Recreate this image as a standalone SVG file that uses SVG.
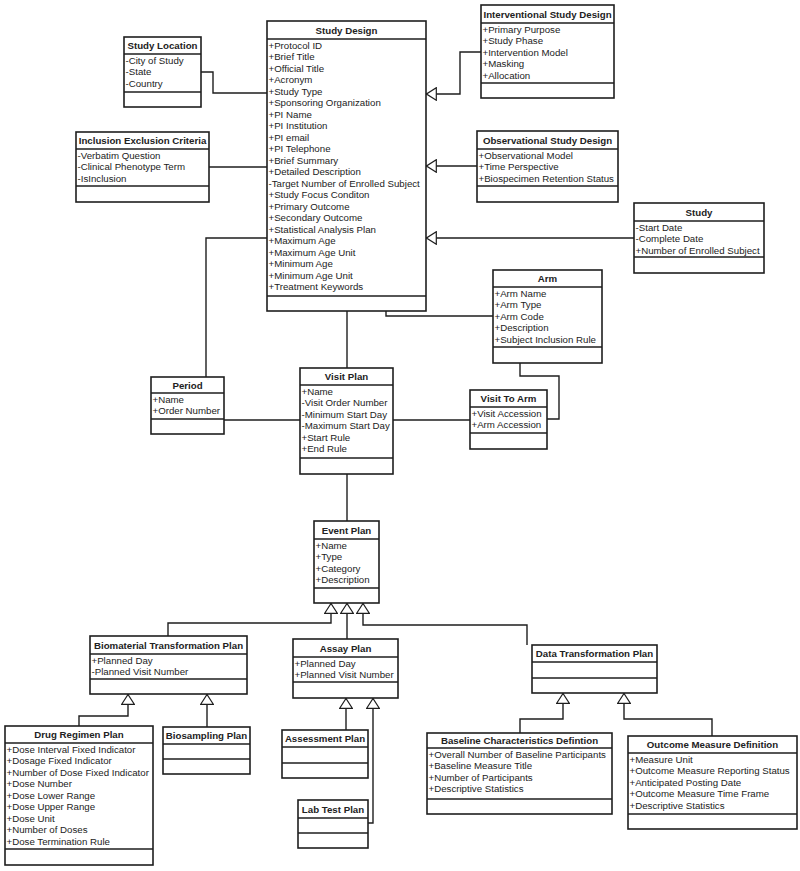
<svg xmlns="http://www.w3.org/2000/svg" width="800" height="871" viewBox="0 0 800 871">
<style>
.bg{fill:#fff}
.box{fill:#fff;stroke:#1e1e1e;stroke-width:1.6}
.d{stroke:#1e1e1e;stroke-width:1.6}
.t{font-family:"Liberation Sans",Arial,sans-serif;font-size:9.7px;font-weight:bold;fill:#222;text-anchor:middle}
.a{font-family:"Liberation Sans",Arial,sans-serif;font-size:9.7px;fill:#222}
.c{fill:none;stroke:#1e1e1e;stroke-width:1.4}
.g{marker-end:url(#gen)}
</style>
<defs>
<marker id="gen" markerUnits="userSpaceOnUse" viewBox="0 0 11 14" markerWidth="11" markerHeight="14" refX="11" refY="7" orient="auto">
<path d="M0.7,0.7 L10.5,7 L0.7,13.3 Z" fill="#fff" stroke="#1e1e1e" stroke-width="1.2"/>
</marker>
</defs>
<rect class="bg" x="0" y="0" width="800" height="871"/>

<g id="connectors">
<path class="c" d="M201,72 H213 V93 H267"/>
<path class="c" d="M209,167 H267"/>
<path class="c g" d="M481,52 H460 V94 H426"/>
<path class="c g" d="M477,166 H426"/>
<path class="c g" d="M634,238 H426"/>
<path class="c" d="M267,238 H206 V377"/>
<path class="c" d="M347,311 V368"/>
<path class="c" d="M386,311 V316 H493"/>
<path class="c" d="M520,363 V376 H559 V419 H547"/>
<path class="c" d="M224,420 H300"/>
<path class="c" d="M393,420 H470"/>
<path class="c" d="M347,474 V521"/>
<path class="c g" d="M168,636 V623 H331 V603"/>
<path class="c g" d="M347,639 V603"/>
<path class="c g" d="M527,645 V625 H363 V603"/>
<path class="c g" d="M79,726 V716 H128 V694"/>
<path class="c g" d="M207,727 V694"/>
<path class="c g" d="M346,730 V698"/>
<path class="c g" d="M368,823 H373 V698"/>
<path class="c g" d="M520,733 V719 H563 V693"/>
<path class="c g" d="M712,736 V719 H624 V693"/>
</g>

<g id="study-design">
<rect class="box" x="267" y="21" width="159" height="290"/>
<line class="d" x1="267" y1="39" x2="426" y2="39"/>
<line class="d" x1="267" y1="296" x2="426" y2="296"/>
<text class="t" x="346.5" y="33.5">Study Design</text>
<text class="a" x="268.5" y="48.5"><tspan x="268.5">+Protocol ID</tspan><tspan x="268.5" dy="11.5">+Brief Title</tspan><tspan x="268.5" dy="11.5">+Official Title</tspan><tspan x="268.5" dy="11.5">+Acronym</tspan><tspan x="268.5" dy="11.5">+Study Type</tspan><tspan x="268.5" dy="11.5">+Sponsoring Organization</tspan><tspan x="268.5" dy="11.5">+PI Name</tspan><tspan x="268.5" dy="11.5">+PI Institution</tspan><tspan x="268.5" dy="11.5">+PI email</tspan><tspan x="268.5" dy="11.5">+PI Telephone</tspan><tspan x="268.5" dy="11.5">+Brief Summary</tspan><tspan x="268.5" dy="11.5">+Detailed Description</tspan><tspan x="268.5" dy="11.5">-Target Number of Enrolled Subject</tspan><tspan x="268.5" dy="11.5">+Study Focus Conditon</tspan><tspan x="268.5" dy="11.5">+Primary Outcome</tspan><tspan x="268.5" dy="11.5">+Secondary Outcome</tspan><tspan x="268.5" dy="11.5">+Statistical Analysis Plan</tspan><tspan x="268.5" dy="11.5">+Maximum Age</tspan><tspan x="268.5" dy="11.5">+Maximum Age Unit</tspan><tspan x="268.5" dy="11.5">+Minimum Age</tspan><tspan x="268.5" dy="11.5">+Minimum Age Unit</tspan><tspan x="268.5" dy="11.5">+Treatment Keywords</tspan></text>
</g>

<g id="study-location">
<rect class="box" x="124" y="37" width="77" height="70"/>
<line class="d" x1="124" y1="54" x2="201" y2="54"/>
<line class="d" x1="124" y1="92" x2="201" y2="92"/>
<text class="t" x="162.5" y="49">Study Location</text>
<text class="a" x="125.5" y="63.5"><tspan x="125.5">-City of Study</tspan><tspan x="125.5" dy="11.5">-State</tspan><tspan x="125.5" dy="11.5">-Country</tspan></text>
</g>

<g id="inclusion-exclusion-criteria">
<rect class="box" x="76" y="132" width="133" height="70"/>
<line class="d" x1="76" y1="149" x2="209" y2="149"/>
<line class="d" x1="76" y1="186" x2="209" y2="186"/>
<text class="t" x="142.5" y="144">Inclusion Exclusion Criteria</text>
<text class="a" x="77.5" y="158.5"><tspan x="77.5">-Verbatim Question</tspan><tspan x="77.5" dy="11.5">-Clinical Phenotype Term</tspan><tspan x="77.5" dy="11.5">-IsInclusion</tspan></text>
</g>

<g id="interventional-study-design">
<rect class="box" x="481" y="5" width="133" height="93"/>
<line class="d" x1="481" y1="23" x2="614" y2="23"/>
<line class="d" x1="481" y1="83" x2="614" y2="83"/>
<text class="t" x="547.5" y="17.5">Interventional Study Design</text>
<text class="a" x="482.5" y="32.5"><tspan x="482.5">+Primary Purpose</tspan><tspan x="482.5" dy="11.5">+Study Phase</tspan><tspan x="482.5" dy="11.5">+Intervention Model</tspan><tspan x="482.5" dy="11.5">+Masking</tspan><tspan x="482.5" dy="11.5">+Allocation</tspan></text>
</g>

<g id="observational-study-design">
<rect class="box" x="477" y="131" width="141" height="71"/>
<line class="d" x1="477" y1="149" x2="618" y2="149"/>
<line class="d" x1="477" y1="186" x2="618" y2="186"/>
<text class="t" x="547.5" y="143.5">Observational Study Design</text>
<text class="a" x="478.5" y="158.5"><tspan x="478.5">+Observational Model</tspan><tspan x="478.5" dy="11.5">+Time Perspective</tspan><tspan x="478.5" dy="11.5">+Biospecimen Retention Status</tspan></text>
</g>

<g id="study">
<rect class="box" x="634" y="203" width="130" height="70"/>
<line class="d" x1="634" y1="221" x2="764" y2="221"/>
<line class="d" x1="634" y1="257" x2="764" y2="257"/>
<text class="t" x="699" y="215.5">Study</text>
<text class="a" x="635.5" y="230.5"><tspan x="635.5">-Start Date</tspan><tspan x="635.5" dy="11.5">-Complete Date</tspan><tspan x="635.5" dy="11.5">+Number of Enrolled Subject</tspan></text>
</g>

<g id="arm">
<rect class="box" x="493" y="270" width="109" height="93"/>
<line class="d" x1="493" y1="287" x2="602" y2="287"/>
<line class="d" x1="493" y1="347" x2="602" y2="347"/>
<text class="t" x="547.5" y="282">Arm</text>
<text class="a" x="494.5" y="296.5"><tspan x="494.5">+Arm Name</tspan><tspan x="494.5" dy="11.5">+Arm Type</tspan><tspan x="494.5" dy="11.5">+Arm Code</tspan><tspan x="494.5" dy="11.5">+Description</tspan><tspan x="494.5" dy="11.5">+Subject Inclusion Rule</tspan></text>
</g>

<g id="period">
<rect class="box" x="151" y="377" width="73" height="57"/>
<line class="d" x1="151" y1="393" x2="224" y2="393"/>
<line class="d" x1="151" y1="419" x2="224" y2="419"/>
<text class="t" x="187.5" y="388.5">Period</text>
<text class="a" x="152.5" y="402.5"><tspan x="152.5">+Name</tspan><tspan x="152.5" dy="11.5">+Order Number</tspan></text>
</g>

<g id="visit-plan">
<rect class="box" x="300" y="368" width="93" height="106"/>
<line class="d" x1="300" y1="385" x2="393" y2="385"/>
<line class="d" x1="300" y1="458" x2="393" y2="458"/>
<text class="t" x="346.5" y="380">Visit Plan</text>
<text class="a" x="301.5" y="394.5"><tspan x="301.5">+Name</tspan><tspan x="301.5" dy="11.5">-Visit Order Number</tspan><tspan x="301.5" dy="11.5">-Minimum Start Day</tspan><tspan x="301.5" dy="11.5">-Maximum Start Day</tspan><tspan x="301.5" dy="11.5">+Start Rule</tspan><tspan x="301.5" dy="11.5">+End Rule</tspan></text>
</g>

<g id="visit-to-arm">
<rect class="box" x="470" y="390" width="77" height="59"/>
<line class="d" x1="470" y1="407" x2="547" y2="407"/>
<line class="d" x1="470" y1="433" x2="547" y2="433"/>
<text class="t" x="508.5" y="402">Visit To Arm</text>
<text class="a" x="471.5" y="416.5"><tspan x="471.5">+Visit Accession</tspan><tspan x="471.5" dy="11.5">+Arm Accession</tspan></text>
</g>

<g id="event-plan">
<rect class="box" x="314" y="521" width="65" height="82"/>
<line class="d" x1="314" y1="539" x2="379" y2="539"/>
<line class="d" x1="314" y1="588" x2="379" y2="588"/>
<text class="t" x="346.5" y="533.5">Event Plan</text>
<text class="a" x="315.5" y="548.5"><tspan x="315.5">+Name</tspan><tspan x="315.5" dy="11.5">+Type</tspan><tspan x="315.5" dy="11.5">+Category</tspan><tspan x="315.5" dy="11.5">+Description</tspan></text>
</g>

<g id="biomaterial-transformation-plan">
<rect class="box" x="90" y="636" width="157" height="58"/>
<line class="d" x1="90" y1="654" x2="247" y2="654"/>
<line class="d" x1="90" y1="679" x2="247" y2="679"/>
<text class="t" x="168.5" y="648.5">Biomaterial Transformation Plan</text>
<text class="a" x="91.5" y="663.5"><tspan x="91.5">+Planned Day</tspan><tspan x="91.5" dy="11.5">-Planned Visit Number</tspan></text>
</g>

<g id="assay-plan">
<rect class="box" x="293" y="639" width="105" height="59"/>
<line class="d" x1="293" y1="657" x2="398" y2="657"/>
<line class="d" x1="293" y1="682" x2="398" y2="682"/>
<text class="t" x="345.5" y="651.5">Assay Plan</text>
<text class="a" x="294.5" y="666.5"><tspan x="294.5">+Planned Day</tspan><tspan x="294.5" dy="11.5">+Planned Visit Number</tspan></text>
</g>

<g id="data-transformation-plan">
<rect class="box" x="532" y="645" width="125" height="48"/>
<line class="d" x1="532" y1="662" x2="657" y2="662"/>
<line class="d" x1="532" y1="678" x2="657" y2="678"/>
<text class="t" x="594.5" y="657">Data Transformation Plan</text>
</g>

<g id="drug-regimen-plan">
<rect class="box" x="5" y="726" width="148" height="139"/>
<line class="d" x1="5" y1="743" x2="153" y2="743"/>
<line class="d" x1="5" y1="849" x2="153" y2="849"/>
<text class="t" x="79" y="738">Drug Regimen Plan</text>
<text class="a" x="6.5" y="752.5"><tspan x="6.5">+Dose Interval Fixed Indicator</tspan><tspan x="6.5" dy="11.5">+Dosage Fixed Indicator</tspan><tspan x="6.5" dy="11.5">+Number of Dose Fixed Indicator</tspan><tspan x="6.5" dy="11.5">+Dose Number</tspan><tspan x="6.5" dy="11.5">+Dose Lower Range</tspan><tspan x="6.5" dy="11.5">+Dose Upper Range</tspan><tspan x="6.5" dy="11.5">+Dose Unit</tspan><tspan x="6.5" dy="11.5">+Number of Doses</tspan><tspan x="6.5" dy="11.5">+Dose Termination Rule</tspan></text>
</g>

<g id="biosampling-plan">
<rect class="box" x="163" y="727" width="87" height="47"/>
<line class="d" x1="163" y1="744" x2="250" y2="744"/>
<line class="d" x1="163" y1="759" x2="250" y2="759"/>
<text class="t" x="206.5" y="739">Biosampling Plan</text>
</g>

<g id="assessment-plan">
<rect class="box" x="282" y="730" width="86" height="48"/>
<line class="d" x1="282" y1="747" x2="368" y2="747"/>
<line class="d" x1="282" y1="763" x2="368" y2="763"/>
<text class="t" x="325" y="742">Assessment Plan</text>
</g>

<g id="lab-test-plan">
<rect class="box" x="298" y="800" width="70" height="48"/>
<line class="d" x1="298" y1="818" x2="368" y2="818"/>
<line class="d" x1="298" y1="833" x2="368" y2="833"/>
<text class="t" x="333" y="812.5">Lab Test Plan</text>
</g>

<g id="baseline-characteristics-defintion">
<rect class="box" x="427" y="733" width="185" height="81"/>
<line class="d" x1="427" y1="748" x2="612" y2="748"/>
<line class="d" x1="427" y1="799" x2="612" y2="799"/>
<text class="t" x="519.5" y="744">Baseline Characteristics Defintion</text>
<text class="a" x="428.5" y="757.5"><tspan x="428.5">+Overall Number of Baseline Participants</tspan><tspan x="428.5" dy="11.5">+Baseline Measure Title</tspan><tspan x="428.5" dy="11.5">+Number of Participants</tspan><tspan x="428.5" dy="11.5">+Descriptive Statistics</tspan></text>
</g>

<g id="outcome-measure-definition">
<rect class="box" x="628" y="736" width="169" height="93"/>
<line class="d" x1="628" y1="753" x2="797" y2="753"/>
<line class="d" x1="628" y1="814" x2="797" y2="814"/>
<text class="t" x="712.5" y="748">Outcome Measure Definition</text>
<text class="a" x="629.5" y="762.5"><tspan x="629.5">+Measure Unit</tspan><tspan x="629.5" dy="11.5">+Outcome Measure Reporting Status</tspan><tspan x="629.5" dy="11.5">+Anticipated Posting Date</tspan><tspan x="629.5" dy="11.5">+Outcome Measure Time Frame</tspan><tspan x="629.5" dy="11.5">+Descriptive Statistics</tspan></text>
</g>
</svg>
